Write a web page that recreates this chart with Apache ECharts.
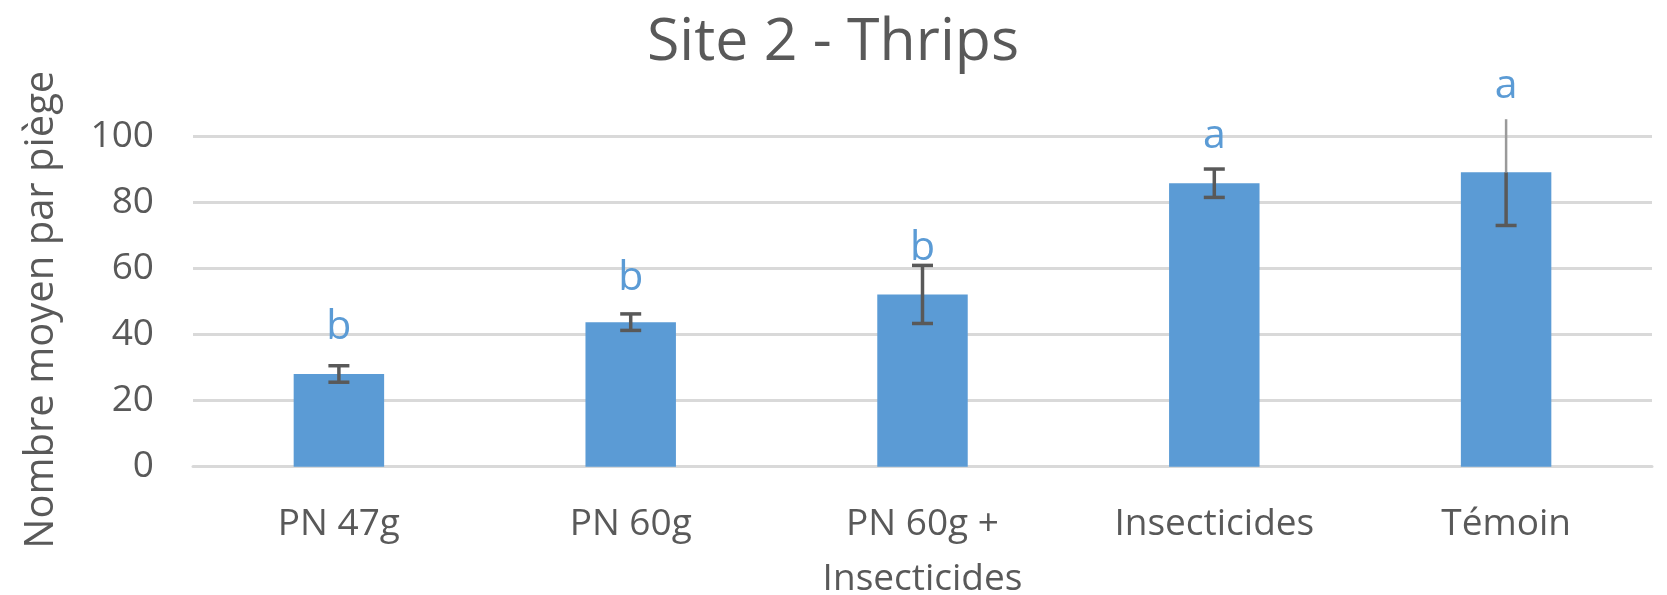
<!DOCTYPE html>
<html>
<head>
<meta charset="utf-8">
<script src="https://cdn.jsdelivr.net/npm/echarts@6/dist/echarts.min.js"></script>
<style>
html,body{margin:0;padding:0;background:#fff;}
#chart{width:1667px;height:595px;}
</style>
</head>
<body>
<div id="chart"></div>
<script>
var categories = ['PN 47g', 'PN 60g', 'PN 60g +\nInsecticides', 'Insecticides', 'Témoin'];
var means = [28.1, 43.8, 52.2, 85.9, 89.2];
var stdErr = [2.5, 2.5, 8.8, 4.3, 16.1];
var letters = ['b', 'b', 'b', 'a', 'a'];
var letterY = [42.1, 57.1, 66.3, 100.2, 115.3];
var yTicks = [0, 20, 40, 60, 80, 100];

var FONT = '"Open Sans", "Noto Sans", sans-serif';
var TEXT = '#595959';
var BLUE = '#5b9bd5';
var Y_MIN = yTicks[0], Y_MAX = yTicks[yTicks.length - 1];

var errData = means.map(function (m, i) { return [i, m - stdErr[i], m + stdErr[i], m]; });
var letterData = letters.map(function (l, i) { return [i, letterY[i], l]; });

var chart = echarts.init(document.getElementById('chart'), null, {renderer: 'canvas'});
chart.setOption({
  animation: false,
  backgroundColor: '#fff',
  title: {
    text: 'Site 2 - Thrips',
    left: 828,
    top: 9,
    textAlign: 'center',
    textStyle: {fontFamily: FONT, fontSize: 59, fontWeight: 'normal', color: TEXT}
  },
  grid: {left: 193, right: 15, top: 136.7, bottom: 128.3, containLabel: false, outerBoundsMode: 'none'},
  xAxis: {
    type: 'category',
    data: categories,
    axisLine: {show: true, lineStyle: {color: '#d9d9d9', width: 3}},
    axisTick: {show: false},
    axisLabel: {
      fontFamily: FONT, fontSize: 37, color: TEXT, lineHeight: 55, margin: 30, interval: 0
    }
  },
  yAxis: {
    type: 'value',
    min: Y_MIN,
    max: Y_MAX,
    interval: 20,
    name: 'Nombre moyen par piège',
    nameLocation: 'middle',
    nameGap: 131,
    nameTextStyle: {fontFamily: FONT, fontSize: 40, color: TEXT, padding: [0, 16, 0, 0]},
    axisLine: {show: false},
    axisTick: {show: false},
    axisLabel: {fontFamily: FONT, fontSize: 37, color: TEXT, margin: 39},
    splitLine: {lineStyle: {color: '#d9d9d9', width: 3}}
  },
  series: [
    {
      type: 'bar',
      data: means,
      barWidth: '31%',
      itemStyle: {color: BLUE},
      z: 2
    },
    {
      type: 'custom',
      clip: false,
      z: 5,
      data: errData,
      renderItem: function (params, api) {
        var x = api.coord([api.value(0), 0])[0];
        var lowV = api.value(1), highV = api.value(2), meanV = api.value(3);
        var yLow = api.coord([api.value(0), lowV])[1];
        var yHigh = api.coord([api.value(0), highV])[1];
        var yMean = api.coord([api.value(0), meanV])[1];
        var capW = 10.5;
        var st = {stroke: '#595959', lineWidth: 3.5};
        var children = [];
        if (highV > Y_MAX) {
          children.push({type: 'line', shape: {x1: x, y1: yLow, x2: x, y2: yMean}, style: st});
          children.push({type: 'line', shape: {x1: x, y1: yMean, x2: x, y2: yHigh}, style: {stroke: '#9a9a9a', lineWidth: 2.5}});
        } else {
          children.push({type: 'line', shape: {x1: x, y1: yLow, x2: x, y2: yHigh}, style: st});
          children.push({type: 'line', shape: {x1: x - capW, y1: yHigh, x2: x + capW, y2: yHigh}, style: st});
        }
        children.push({type: 'line', shape: {x1: x - capW, y1: yLow, x2: x + capW, y2: yLow}, style: st});
        return {type: 'group', children: children};
      }
    },
    {
      type: 'custom',
      clip: false,
      z: 6,
      data: letterData,
      renderItem: function (params, api) {
        var p = api.coord([api.value(0), api.value(1)]);
        return {
          type: 'text',
          x: p[0], y: p[1],
          style: {
            text: letters[params.dataIndex],
            fontFamily: FONT, fontSize: 41, fill: BLUE,
            align: 'center', verticalAlign: 'middle'
          }
        };
      }
    }
  ]
});
</script>
</body>
</html>
